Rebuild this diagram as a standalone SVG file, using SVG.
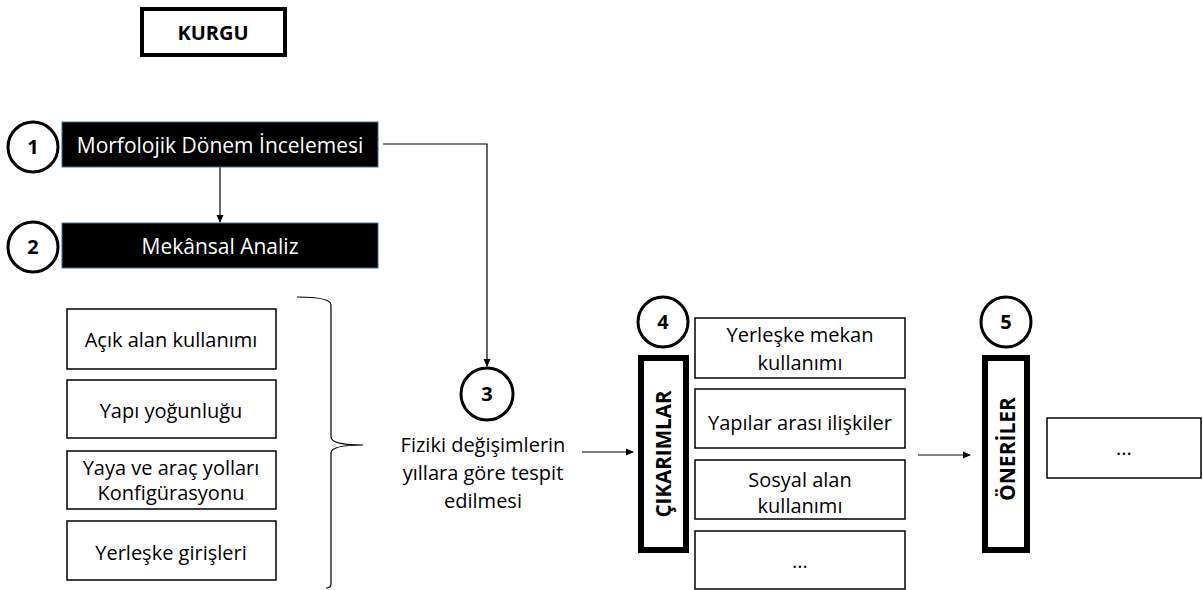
<svg xmlns="http://www.w3.org/2000/svg" width="1203" height="590" viewBox="0 0 1203 590">
<style>
text{font-family:"Open Sans","Liberation Sans",sans-serif;font-size:20px;fill:#000;text-anchor:middle}
.w{fill:#fff;font-size:21px}
.b{font-weight:bold}
.v{font-weight:bold;font-size:21px}
.box{fill:#fff;stroke:#000;stroke-width:1.5}
.dark{fill:#000;stroke:#41719C;stroke-width:1}
.thick{fill:#fff;stroke:#000;stroke-width:6}
.num{fill:#fff;stroke:#000;stroke-width:3}
.ln{fill:none;stroke:#000;stroke-width:1.2}
</style>
<defs>
<marker id="ah" markerWidth="8" markerHeight="8" refX="7" refY="4" orient="auto" markerUnits="userSpaceOnUse">
<path d="M0,0.5 L8,4 L0,7.5 Z" fill="#000"/>
</marker>
</defs>
<rect width="1203" height="590" fill="#fff"/>
<g id="kurgu">
<rect x="142" y="9" width="143" height="46" fill="#fff" stroke="#000" stroke-width="4"/>
<text x="213" y="40" class="b">KURGU</text>
</g>
<g id="connectors">
<line x1="220" y1="167" x2="220" y2="222" class="ln" marker-end="url(#ah)"/>
<polyline points="383,144 487,144 487,366" class="ln" marker-end="url(#ah)"/>
<line x1="582" y1="452" x2="633" y2="452" class="ln" marker-end="url(#ah)"/>
<line x1="918" y1="455" x2="970" y2="455" class="ln" marker-end="url(#ah)"/>
<path d="M297,297 Q331,297 331,305 L331,437 Q331,445 363,445 Q331,445 331,453 L331,584 Q331,588 326,588" class="ln"/>
</g>
<g id="n1">
<circle cx="33" cy="147" r="25" class="num"/>
<text x="33" y="154" class="b">1</text>
<rect x="62" y="122" width="316" height="45" class="dark"/>
<text x="220" y="153" class="w">Morfolojik Dönem İncelemesi</text>
</g>
<g id="n2">
<circle cx="33" cy="247" r="25" class="num"/>
<text x="33" y="254" class="b">2</text>
<rect x="62" y="223" width="316" height="45" class="dark"/>
<text x="220" y="254" class="w">Mekânsal Analiz</text>
</g>
<g id="list1">
<rect x="67" y="309" width="209" height="60" class="box"/>
<text x="171" y="347">Açık alan kullanımı</text>
<rect x="67" y="380" width="209" height="58" class="box"/>
<text x="171" y="418">Yapı yoğunluğu</text>
<rect x="67" y="451" width="209" height="58" class="box"/>
<text x="171" y="475" font-size="19">Yaya ve araç yolları</text>
<text x="171" y="500" font-size="19">Konfigürasyonu</text>
<rect x="67" y="521" width="209" height="59" class="box"/>
<text x="171" y="560">Yerleşke girişleri</text>
</g>
<g id="n3">
<circle cx="487" cy="394" r="26" class="num"/>
<text x="487" y="401" class="b">3</text>
<text x="483" y="452">Fiziki değişimlerin</text>
<text x="483" y="480">yıllara göre tespit</text>
<text x="483" y="508">edilmesi</text>
</g>
<g id="n4">
<circle cx="663" cy="322" r="25" class="num"/>
<text x="663" y="329" class="b">4</text>
<rect x="641" y="358" width="45" height="192" class="thick"/>
<text transform="translate(671,454) rotate(-90)" class="v" textLength="127" lengthAdjust="spacingAndGlyphs">ÇIKARIMLAR</text>
</g>
<g id="list4">
<rect x="695" y="318" width="210" height="60" class="box"/>
<text x="800" y="342">Yerleşke mekan</text>
<text x="800" y="370">kullanımı</text>
<rect x="695" y="389" width="210" height="59" class="box"/>
<text x="800" y="430">Yapılar arası ilişkiler</text>
<rect x="695" y="460" width="210" height="59" class="box"/>
<text x="800" y="487">Sosyal alan</text>
<text x="800" y="513">kullanımı</text>
<rect x="695" y="531" width="210" height="58" class="box"/>
<text x="800" y="568">...</text>
</g>
<g id="n5">
<circle cx="1006" cy="322" r="25" class="num"/>
<text x="1006" y="329" class="b">5</text>
<rect x="985" y="358" width="42" height="192" class="thick"/>
<text transform="translate(1015,449) rotate(-90)" class="v">ÖNERİLER</text>
</g>
<g id="res">
<rect x="1047" y="418" width="154" height="60" class="box"/>
<text x="1124" y="455">...</text>
</g>
</svg>
